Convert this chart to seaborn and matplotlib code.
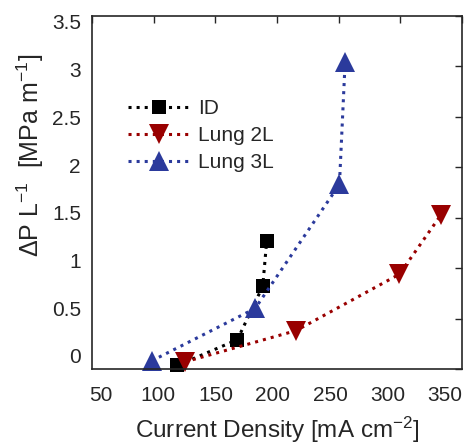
import matplotlib
matplotlib.use("Agg")
import matplotlib.pyplot as plt
from matplotlib.transforms import ScaledTranslation
import seaborn as sns
import pandas as pd

id_x = [119.3, 167.9, 188.5, 191.7]
id_y = [0.035, 0.29, 0.82, 1.27]
l2_x = [125.4, 215.5, 299.4, 333.2]
l2_y = [0.07, 0.38, 0.94, 1.53]
l3_x = [98.4, 182.3, 250.7, 255.3]
l3_y = [0.08, 0.60, 1.83, 3.04]

series_names = ["ID", "Lung 2L", "Lung 3L"]
x_ticks = [50, 100, 150, 200, 250, 300, 350]
y_ticks = [0, 0.5, 1, 1.5, 2, 2.5, 3, 3.5]
y_ticklabels = ["0", "0.5", "1", "1.5", "2", "2.5", "3", "3.5"]

sns.set_style("white")
plt.rcParams['font.family'] = ['Liberation Sans', 'DejaVu Sans']
plt.rcParams['mathtext.fontset'] = 'custom'
plt.rcParams['mathtext.rm'] = 'Liberation Sans'
plt.rcParams['mathtext.it'] = 'Liberation Sans'

DPI = 100
fig = plt.figure(figsize=(4.67, 4.44), dpi=DPI)
ax = fig.add_axes([0.197, 0.169, 0.792, 0.795])

styles = {
    "ID": dict(color="black", marker="s", ms=10.5),
    "Lung 2L": dict(color="#990000", marker="v", ms=15),
    "Lung 3L": dict(color="#2b3a9c", marker="^", ms=15),
}
data = {"ID": (id_x, id_y), "Lung 2L": (l2_x, l2_y), "Lung 3L": (l3_x, l3_y)}

for name in series_names:
    xs, ys = data[name]
    df = pd.DataFrame({"x": xs, "y": ys})
    st = styles[name]
    sns.lineplot(data=df, x="x", y="y", ax=ax, sort=False, color=st["color"],
                 linestyle=":", linewidth=2.2, marker=st["marker"],
                 markersize=st["ms"], markeredgewidth=0,
                 markerfacecolor=st["color"], label=name, clip_on=False)

ax.set_xlim(50, 350)
ax.set_ylim(0, 3.5)
ax.set_xticks(x_ticks)
ax.set_yticks(y_ticks)
ax.set_yticklabels(y_ticklabels)
ax.tick_params(direction="in", length=5, width=1, top=True, right=True,
               labelsize=15, colors="#262626")
ax.tick_params(axis="x", pad=12)
ax.tick_params(axis="y", pad=8)
for sp in ax.spines.values():
    sp.set_visible(True)
    sp.set_color("#262626")
    sp.set_linewidth(1.2)

# tick labels in the reference sit slightly off their ticks (compressed spacing)
for lbl, v in zip(ax.get_xticklabels(), x_ticks):
    dx = 8.7 - 0.0856 * (v - 50)
    lbl.set_transform(lbl.get_transform() + ScaledTranslation(dx / DPI, 0, fig.dpi_scale_trans))
for lbl, v in zip(ax.get_yticklabels(), y_ticks):
    dy = 13.0 - 5.4 * v
    lbl.set_transform(lbl.get_transform() + ScaledTranslation(0, dy / DPI, fig.dpi_scale_trans))

ax.set_xlabel("Current Density [mA cm$^{-2}$]", fontsize=17.5, color="#262626", va="baseline")
ax.set_ylabel("$\\Delta$P L$^{-1}$  [MPa m$^{-1}$]", fontsize=18, color="#262626", va="baseline")
ax.xaxis.set_label_coords(0.5, -0.196)
ax.yaxis.set_label_coords(-0.143, 0.604)

leg = ax.legend(loc="upper left", bbox_to_anchor=(0.076, 0.788), frameon=False,
                fontsize=15, handlelength=2.9, handletextpad=0.45,
                labelspacing=0.38, borderaxespad=0)

fig.savefig("out.png", dpi=DPI)
